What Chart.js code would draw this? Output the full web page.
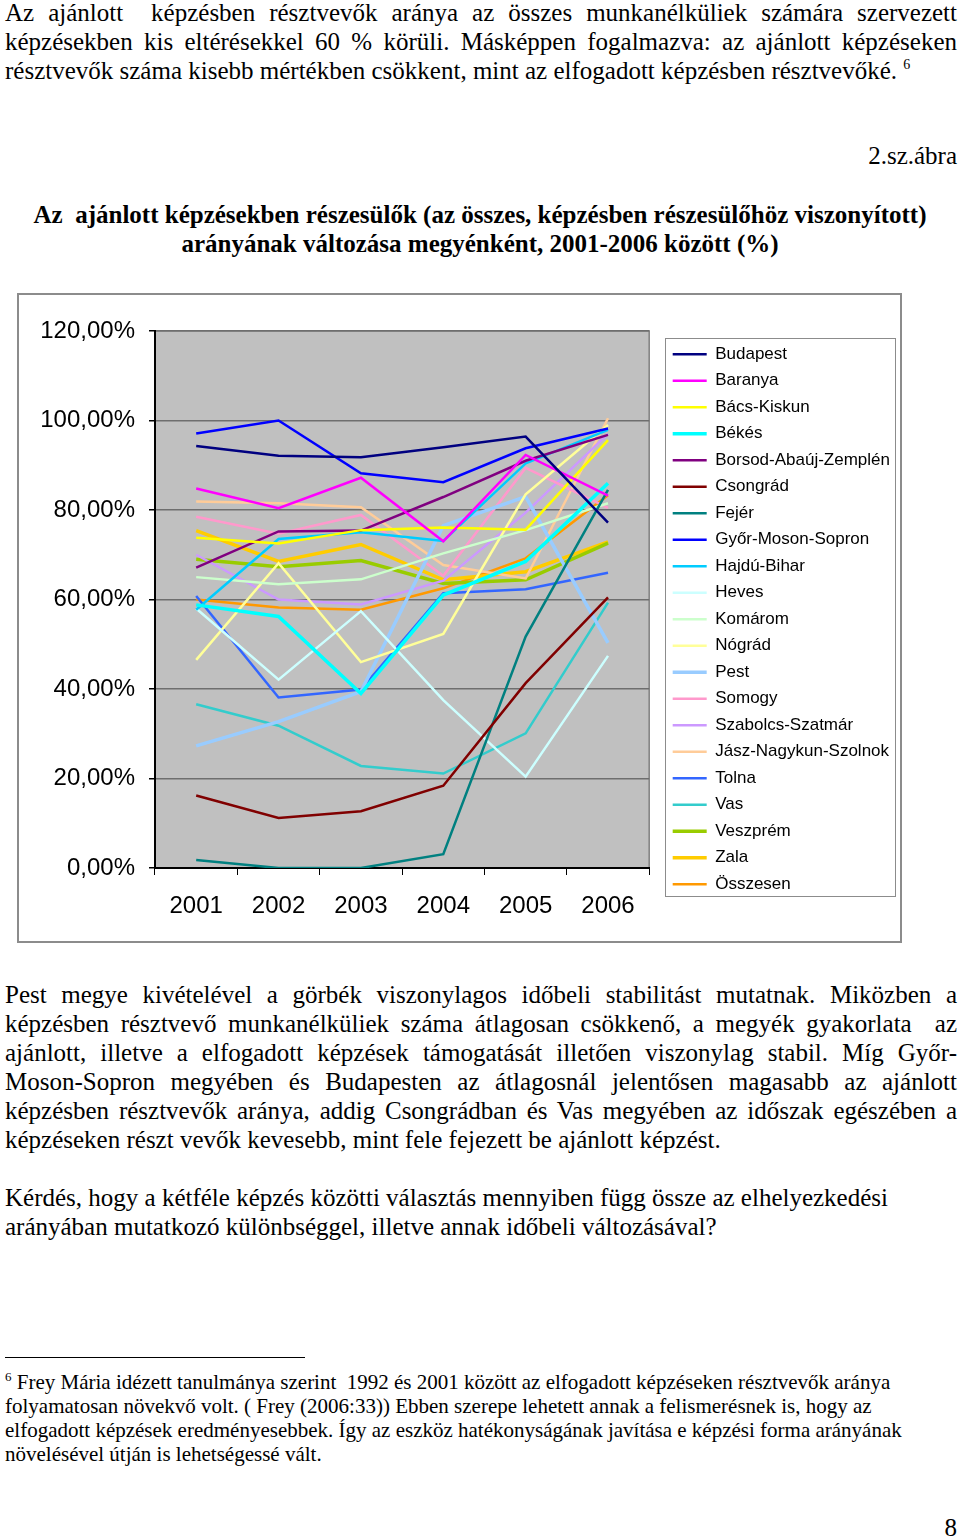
<!DOCTYPE html>
<html lang="hu">
<head>
<meta charset="utf-8">
<script src="https://cdn.jsdelivr.net/npm/chart.js@4.4.1/dist/chart.umd.min.js"></script>
<style>
  html, body { margin: 0; padding: 0; background: #fff; }
  body { width: 960px; height: 1537px; position: relative; overflow: hidden;
         font-family: "Liberation Serif", "Times New Roman", serif; color: #000; }
  .blk { position: absolute; left: 5px; width: 952px; font-size: 25px; line-height: 29px; }
  .j { text-align: justify; text-align-last: justify; white-space: nowrap; }
  .l { white-space: nowrap; }
  sup { font-size: 14px; vertical-align: 10px; line-height: 0; }
  #chartBox { position: absolute; left: 17px; top: 293px; width: 881px; height: 646px;
              border: 2px solid #8c8c8c; background: #fff; }
  .foot { position: absolute; left: 5px; width: 952px; font-size: 21px; line-height: 24px; }
</style>
</head>
<body>

<div class="blk" style="top:-2px">
  <div class="j">Az ajánlott&nbsp; képzésben résztvevők aránya az összes munkanélküliek számára szervezett</div>
  <div class="j">képzésekben kis eltérésekkel 60 % körüli. Másképpen fogalmazva: az ajánlott képzéseken</div>
  <div class="l">résztvevők száma kisebb mértékben csökkent, mint az elfogadott képzésben résztvevőké. <sup>6</sup></div>
</div>

<div class="blk" style="top:141px; text-align:right">2.sz.ábra</div>

<div class="blk" style="top:200px; text-align:center; font-weight:bold; left:0; width:960px">
  <div>Az&nbsp; ajánlott képzésekben részesülők (az összes, képzésben részesülőhöz viszonyított)</div>
  <div>arányának változása megyénként, 2001-2006 között (%)</div>
</div>

<div id="chartBox"><canvas id="chart" width="881" height="646"></canvas></div>

<div class="blk" style="top:980px">
  <div class="j">Pest megye kivételével a görbék viszonylagos időbeli stabilitást mutatnak. Miközben a</div>
  <div class="j">képzésben résztvevő munkanélküliek száma átlagosan csökkenő, a megyék gyakorlata&nbsp; az</div>
  <div class="j">ajánlott, illetve a elfogadott képzések támogatását illetően viszonylag stabil. Míg Győr-</div>
  <div class="j">Moson-Sopron megyében és Budapesten az átlagosnál jelentősen magasabb az ajánlott</div>
  <div class="j">képzésben résztvevők aránya, addig Csongrádban és Vas megyében az időszak egészében a</div>
  <div class="l">képzéseken részt vevők kevesebb, mint fele fejezett be ajánlott képzést.</div>
</div>

<div class="blk" style="top:1183px">
  <div class="l">Kérdés, hogy a kétféle képzés közötti választás mennyiben függ össze az elhelyezkedési</div>
  <div class="l">arányában mutatkozó különbséggel, illetve annak időbeli változásával?</div>
</div>

<div style="position:absolute; left:5px; top:1357px; width:300px; border-top:1px solid #000"></div>

<div class="foot" style="top:1370px">
  <div class="l"><sup style="font-size:13px;vertical-align:8px">6</sup> Frey Mária idézett tanulmánya szerint&nbsp; 1992 és 2001 között az elfogadott képzéseken résztvevők aránya</div>
  <div class="l">folyamatosan növekvő volt. ( Frey (2006:33)) Ebben szerepe lehetett annak a felismerésnek is, hogy az</div>
  <div class="l">elfogadott képzések eredményesebbek. Így az eszköz hatékonyságának javítása e képzési forma arányának</div>
  <div class="l">növelésével útján is lehetségessé vált.</div>
</div>

<div class="blk" style="top:1513px; text-align:right">8</div>

<script>
// years on the x axis
const years = ['2001', '2002', '2003', '2004', '2005', '2006'];

// share of recommended trainings, %
const budapest   = [94.3, 92.1, 91.8, 94.0, 96.4, 77.2];
const baranya    = [84.8, 80.4, 87.2, 73.0, 92.3, 83.2];
const bacsKiskun = [73.8, 72.5, 75.5, 76.1, 75.6, 95.6];
const bekes      = [58.8, 56.2, 39.0, 61.0, 68.5, 86.0];
const borsod     = [67.1, 75.2, 75.4, 82.9, 91.0, 96.8];
const csongrad   = [16.2, 11.2, 12.7, 18.4, 41.3, 60.5];
const fejer      = [1.8, 0.0, 0.0, 3.1, 51.7, 84.5];
const gyor       = [97.1, 100.0, 88.2, 86.2, 93.8, 98.2];
const hajduBihar = [57.7, 73.5, 75.0, 73.1, 90.4, 97.9];
const heves      = [58.0, 42.1, 57.4, 37.5, 20.4, 47.4];
const komarom    = [65.0, 63.4, 64.5, 70.3, 75.5, 81.5];
const nograd     = [46.5, 68.1, 46.0, 52.3, 83.5, 99.0];
const pest       = [27.3, 32.7, 39.4, 76.5, 83.0, 50.3];
const somogy     = [78.5, 74.7, 78.9, 65.3, 89.4, 80.5];
const szabolcs   = [70.0, 60.0, 58.9, 64.2, 79.4, 97.0];
const jasz       = [81.9, 81.5, 80.6, 67.7, 64.7, 100.5];
const tolna      = [60.8, 38.1, 39.9, 61.4, 62.3, 66.0];
const vas        = [36.6, 31.8, 22.8, 21.1, 30.1, 59.3];
const veszprem   = [69.0, 67.3, 68.7, 63.6, 64.4, 72.6];
const zala       = [75.4, 68.5, 72.3, 64.4, 66.2, 72.9];
const osszesen   = [60.0, 58.2, 57.7, 62.5, 69.2, 83.3];

const series = [
  ['Budapest', budapest, '#000080'],
  ['Baranya', baranya, '#ff00ff'],
  ['Bács-Kiskun', bacsKiskun, '#ffff00'],
  ['Békés', bekes, '#00ffff'],
  ['Borsod-Abaúj-Zemplén', borsod, '#800080'],
  ['Csongrád', csongrad, '#800000'],
  ['Fejér', fejer, '#008080'],
  ['Győr-Moson-Sopron', gyor, '#0000ff'],
  ['Hajdú-Bihar', hajduBihar, '#00ccff'],
  ['Heves', heves, '#ccffff'],
  ['Komárom', komarom, '#ccffcc'],
  ['Nógrád', nograd, '#ffff99'],
  ['Pest', pest, '#99ccff'],
  ['Somogy', somogy, '#ff99cc'],
  ['Szabolcs-Szatmár', szabolcs, '#cc99ff'],
  ['Jász-Nagykun-Szolnok', jasz, '#ffcc99'],
  ['Tolna', tolna, '#3366ff'],
  ['Vas', vas, '#33cccc'],
  ['Veszprém', veszprem, '#99cc00'],
  ['Zala', zala, '#ffcc00'],
  ['Összesen', osszesen, '#ff9900']
];
const thick = ['Békés', 'Veszprém', 'Zala', 'Pest'];

// grey plot background + border round the legend
const plotBg = {
  id: 'plotBg',
  beforeDraw(chart) {
    const {ctx, chartArea: a} = chart;
    ctx.save();
    ctx.fillStyle = '#c0c0c0';
    ctx.fillRect(a.left, a.top, a.right - a.left, a.bottom - a.top);
    ctx.strokeStyle = '#808080';
    ctx.lineWidth = 1.5;
    ctx.beginPath();
    ctx.moveTo(a.left, a.top); ctx.lineTo(a.right, a.top); ctx.lineTo(a.right, a.bottom);
    ctx.stroke();
    ctx.restore();
  },
  afterDraw(chart) {
    const hb = chart.legend.legendHitBoxes;
    if (!hb || !hb.length) return;
    const l = Math.min(...hb.map(b => b.left)) - 8;
    const t = Math.min(...hb.map(b => b.top)) - 8;
    const r = Math.max(...hb.map(b => b.left + b.width)) + 5;
    const b = Math.max(...hb.map(b => b.top + b.height)) + 3;
    const ctx = chart.ctx;
    ctx.save();
    ctx.strokeStyle = '#8c8c8c';
    ctx.lineWidth = 1;
    ctx.strokeRect(Math.round(l) + 0.5, Math.round(t) + 0.5, Math.round(r - l), Math.round(b - t));
    ctx.restore();
  }
};

new Chart(document.getElementById('chart'), {
  type: 'line',
  data: {
    labels: years,
    datasets: series.map(([name, vals, col]) => ({
      label: name,
      data: vals,
      borderColor: col,
      backgroundColor: col,
      borderWidth: thick.includes(name) ? 3.5 : 2.5,
      pointRadius: 0,
      tension: 0
    }))
  },
  options: {
    responsive: false,
    animation: false,
    layout: { padding: { top: 36, left: 0, right: 0, bottom: 0 } },
    plugins: {
      tooltip: { enabled: false },
      legend: {
        position: 'right',
        align: 'start',
        maxWidth: 300,
        title: { display: true, text: '', padding: { top: 2, bottom: 2 }, font: { size: 1 } },
        labels: {
          usePointStyle: true,
          pointStyle: 'line',
          pointStyleWidth: 34,
          padding: 9.5,
          color: '#000',
          font: { family: 'Liberation Sans, Arial, sans-serif', size: 17 }
        }
      }
    },
    scales: {
      x: {
        offset: true,
        afterFit(scale) { scale.height = 73; },
        grid: { offset: true, drawOnChartArea: false, drawTicks: true, tickLength: 7, tickColor: '#000' },
        border: { color: '#000', width: 2 },
        ticks: { color: '#000', padding: 17, font: { family: 'Liberation Sans, Arial, sans-serif', size: 24 } }
      },
      y: {
        min: 0,
        max: 120,
        afterFit(scale) { scale.width = 136; },
        grid: { color: '#6e6e6e', lineWidth: 1.5, tickLength: 6, tickColor: '#000' },
        border: { color: '#000', width: 2 },
        ticks: {
          stepSize: 20,
          color: '#000',
          padding: 14,
          font: { family: 'Liberation Sans, Arial, sans-serif', size: 24 },
          callback: v => v.toFixed(2).replace('.', ',') + '%'
        }
      },
      // empty spacer between the plot and the legend
      gap: {
        type: 'linear',
        position: 'right',
        display: true,
        afterFit(scale) { scale.width = 14; },
        grid: { display: false, drawTicks: false },
        border: { display: false },
        ticks: { display: false }
      }
    }
  },
  plugins: [plotBg]
});
</script>
</body>
</html>
